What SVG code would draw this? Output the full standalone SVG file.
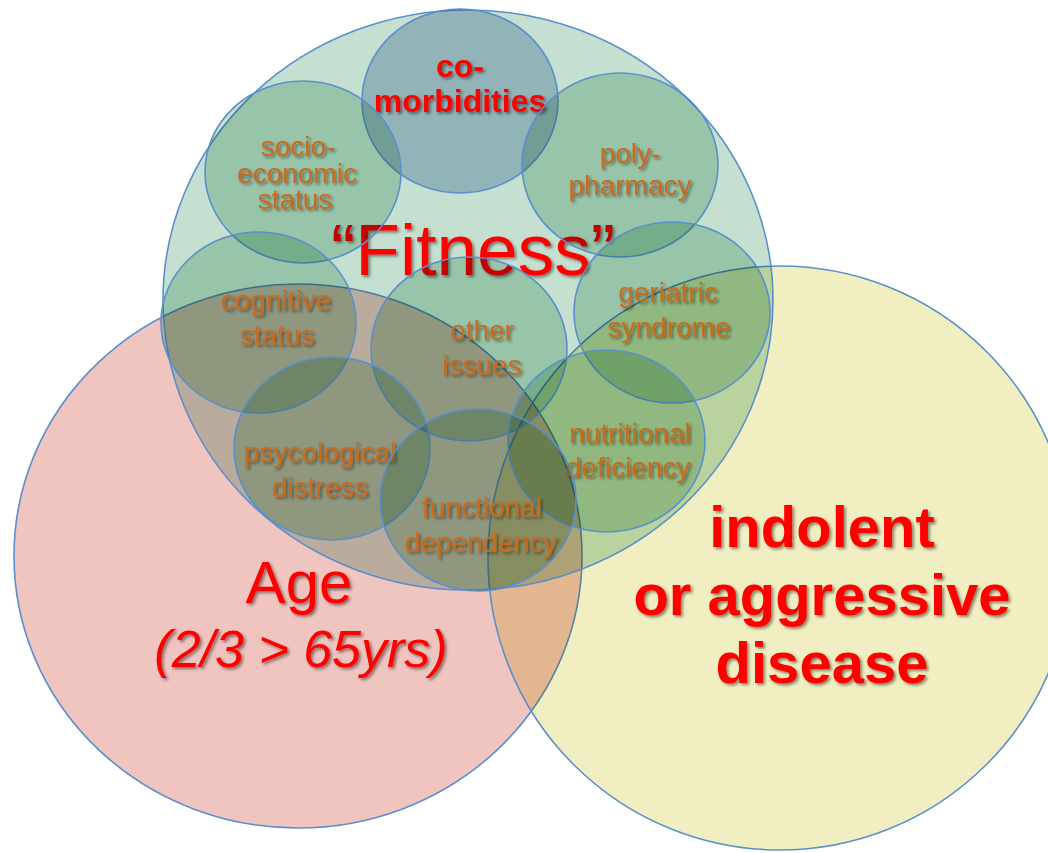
<svg xmlns="http://www.w3.org/2000/svg" width="1048" height="853" viewBox="0 0 1048 853">
<defs>
<filter id="ts" x="-10%" y="-20%" width="130%" height="160%">
<feGaussianBlur in="SourceAlpha" stdDeviation="1.6"/>
<feOffset dx="2" dy="2" result="b"/>
<feFlood flood-color="#000" flood-opacity="0.45"/>
<feComposite in2="b" operator="in" result="s"/>
<feMerge><feMergeNode in="s"/><feMergeNode in="SourceGraphic"/></feMerge>
</filter>
</defs>
<style>
.fl{stroke:none;mix-blend-mode:multiply}
.sf{fill:#c5e0d0;stroke:none;mix-blend-mode:multiply}
.ol{fill:none;stroke:#5b8fcc;stroke-width:1.6}
.lab{font-family:"Liberation Sans",Arial,sans-serif;font-size:28px;fill:#c96a1b;text-anchor:middle;filter:url(#ts)}
.red{font-family:"Liberation Sans",Arial,sans-serif;fill:#ff0000;text-anchor:middle;filter:url(#ts)}
</style>
<rect width="1048" height="853" fill="#ffffff"/>
<g id="age">
<ellipse class="fl" cx="298" cy="556" rx="284" ry="272" fill="#f0c4bf"/>
<ellipse class="ol" cx="298" cy="556" rx="284" ry="272"/>
<text class="red" x="299" y="603" font-size="60">Age</text>
<text class="red" x="301" y="667" font-size="52" font-style="italic">(2/3 &gt; 65yrs)</text>
</g>
<g id="disease">
<circle class="fl" cx="780" cy="558" r="292" fill="#f1efc1"/>
<circle class="ol" cx="780" cy="558" r="292"/>
<text class="red" x="822" y="547" font-size="58" font-weight="bold">indolent</text>
<text class="red" x="822" y="615" font-size="58" font-weight="bold">or aggressive</text>
<text class="red" x="822" y="683" font-size="58" font-weight="bold">disease</text>
</g>
<g id="fitness">
<ellipse class="fl" cx="468" cy="300" rx="305" ry="290" fill="#c5e0d0"/>
<ellipse class="ol" cx="468" cy="300" rx="305" ry="290"/>
<text class="red" x="473" y="275" font-size="73">“Fitness”</text>
</g>
<g id="comorbidities">
<ellipse class="fl" cx="460" cy="101" rx="98" ry="92" fill="#bdcce2"/>
<ellipse class="ol" cx="460" cy="101" rx="98" ry="92"/>
<text class="red" x="460" y="77" font-size="32" font-weight="bold">co-</text>
<text class="red" x="460" y="112" font-size="32" font-weight="bold">morbidities</text>
</g>
<g id="socio">
<ellipse class="sf" cx="303" cy="172" rx="98" ry="91"/>
<ellipse class="ol" cx="303" cy="172" rx="98" ry="91"/>
<text class="lab" x="298" y="156">socio-</text>
<text class="lab" x="297" y="183">economic</text>
<text class="lab" x="295" y="209">status</text>
</g>
<g id="poly">
<ellipse class="sf" cx="620" cy="165" rx="98" ry="92"/>
<ellipse class="ol" cx="620" cy="165" rx="98" ry="92"/>
<text class="lab" x="630" y="163">poly-</text>
<text class="lab" x="630" y="195">pharmacy</text>
</g>
<g id="cognitive">
<ellipse class="sf" cx="258.5" cy="322.5" rx="97.5" ry="90.5"/>
<ellipse class="ol" cx="258.5" cy="322.5" rx="97.5" ry="90.5"/>
<text class="lab" x="276" y="310">cognitive</text>
<text class="lab" x="277" y="345">status</text>
</g>
<g id="geriatric">
<ellipse class="sf" cx="672" cy="312.5" rx="98" ry="90.5"/>
<ellipse class="ol" cx="672" cy="312.5" rx="98" ry="90.5"/>
<text class="lab" x="668" y="302">geriatric</text>
<text class="lab" x="669" y="337">syndrome</text>
</g>
<g id="other">
<ellipse class="sf" cx="469" cy="349" rx="98" ry="92"/>
<ellipse class="ol" cx="469" cy="349" rx="98" ry="92"/>
<text class="lab" x="482" y="340">other</text>
<text class="lab" x="482" y="375">issues</text>
</g>
<g id="psyco">
<ellipse class="sf" cx="332" cy="448.5" rx="98" ry="91.5"/>
<ellipse class="ol" cx="332" cy="448.5" rx="98" ry="91.5"/>
<text class="lab" x="320" y="462" font-size="29">psycological</text>
<text class="lab" x="320" y="497">distress</text>
</g>
<g id="nutritional">
<ellipse class="sf" cx="606.5" cy="441" rx="98.5" ry="91"/>
<ellipse class="ol" cx="606.5" cy="441" rx="98.5" ry="91"/>
<text class="lab" x="630" y="443">nutritional</text>
<text class="lab" x="628" y="477">deficiency</text>
</g>
<g id="functional">
<ellipse class="sf" cx="478" cy="500" rx="98" ry="91"/>
<ellipse class="ol" cx="478" cy="500" rx="98" ry="91"/>
<text class="lab" x="482" y="517">functional</text>
<text class="lab" x="481" y="552">dependency</text>
</g>
<g id="connectors"/>
</svg>
